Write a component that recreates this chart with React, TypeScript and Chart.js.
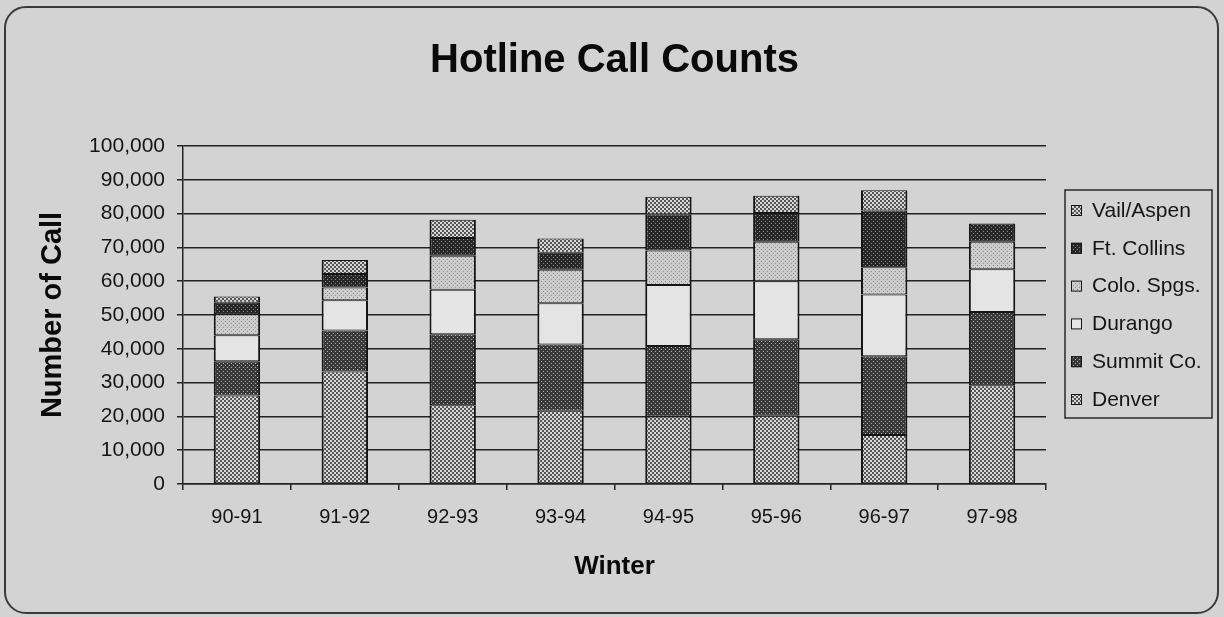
import React, { useEffect, useRef } from "react";
import { Chart, registerables } from "chart.js";

Chart.register(...registerables);

const FONT = '"Liberation Sans", Arial, Helvetica, sans-serif';

const winters = ["90-91", "91-92", "92-93", "93-94", "94-95", "95-96", "96-97", "97-98"];
const denver = [26200, 33300, 23300, 21700, 20000, 20200, 14500, 29200];
const summitCo = [10100, 12100, 21000, 19600, 20800, 22600, 23300, 21700];
const durango = [7700, 9000, 13200, 12200, 18100, 17200, 18300, 12600];
const coloSpgs = [6200, 3700, 10000, 9900, 10200, 11700, 8000, 8200];
const ftCollins = [3400, 4000, 5300, 5000, 10600, 8500, 16800, 5400];
const vailAspen = [1900, 4200, 5400, 4200, 5300, 5100, 6000, 0];

const yMin = 0;
const yMax = 100000;
const yStep = 10000;

const PAGE_BG = "#d3d3d3";
const INK = "#151515";

type Dot = [number, number, number, string];

function makePattern(ctx: CanvasRenderingContext2D, size: number, bg: string, dots: Dot[]) {
  const c = document.createElement("canvas");
  c.width = size;
  c.height = size;
  const t = c.getContext("2d")!;
  t.fillStyle = bg;
  t.fillRect(0, 0, size, size);
  dots.forEach(([x, y, s, col]) => {
    t.fillStyle = col;
    t.fillRect(x, y, s, s);
  });
  return ctx.createPattern(c, "repeat") as CanvasPattern;
}

const legendPlugin = {
  id: "boxedLegend",
  afterDraw(chart: any) {
    const { ctx, chartArea } = chart;
    const left = chartArea.right + 19;
    const top = chartArea.top + 44;
    const w = 147;
    const h = 228;
    ctx.save();
    ctx.strokeStyle = "#2a2a2a";
    ctx.lineWidth = 1.5;
    ctx.strokeRect(left, top, w, h);
    const items = chart.data.datasets.slice().reverse();
    items.forEach((ds: any, i: number) => {
      const cy = top + 20 + i * 37.8;
      const bx = left + 6;
      ctx.fillStyle = ds.backgroundColor;
      ctx.fillRect(bx, cy - 5, 11, 11);
      ctx.strokeStyle = INK;
      ctx.lineWidth = 1;
      ctx.strokeRect(bx + 0.5, cy - 4.5, 10, 10);
      ctx.fillStyle = INK;
      ctx.font = `21px ${FONT}`;
      ctx.textBaseline = "middle";
      ctx.textAlign = "left";
      ctx.fillText(ds.label, bx + 21, cy + 1);
    });
    ctx.restore();
  },
};

export default function App() {
  const ref = useRef<HTMLCanvasElement | null>(null);

  useEffect(() => {
    const canvas = ref.current;
    if (!canvas) return;
    const ctx = canvas.getContext("2d")!;

    const hatch = makePattern(ctx, 4, "#d8d8d8", [
      [0, 0, 2, "#555555"],
      [2, 2, 2, "#555555"],
    ]);
    const darkDots = makePattern(ctx, 4, "#262626", [
      [1, 1, 1, "#8c8c8c"],
      [3, 3, 1, "#8c8c8c"],
    ]);
    const midDots = makePattern(ctx, 4, "#383838", [
      [1, 1, 1, "#b0b0b0"],
      [3, 3, 1, "#b0b0b0"],
    ]);
    const lightDots = makePattern(ctx, 4, "#cdcdcd", [
      [1, 1, 1, "#8a8a8a"],
      [3, 3, 1, "#8a8a8a"],
    ]);
    const plain = "#e4e4e4";

    const barCommon = {
      borderColor: INK,
      borderWidth: { left: 2, right: 2, top: 1, bottom: 1 },
      borderSkipped: false as const,
      barPercentage: 0.43,
      categoryPercentage: 1,
    };

    const chart = new Chart(canvas, {
      type: "bar",
      data: {
        labels: winters,
        datasets: [
          { label: "Denver", data: denver, backgroundColor: hatch, ...barCommon },
          { label: "Summit Co.", data: summitCo, backgroundColor: midDots, ...barCommon },
          { label: "Durango", data: durango, backgroundColor: plain, ...barCommon },
          { label: "Colo. Spgs.", data: coloSpgs, backgroundColor: lightDots, ...barCommon },
          { label: "Ft. Collins", data: ftCollins, backgroundColor: darkDots, ...barCommon },
          { label: "Vail/Aspen", data: vailAspen, backgroundColor: hatch, ...barCommon },
        ] as any,
      },
      options: {
        animation: false,
        responsive: false,
        layout: { padding: { left: 0, right: 178, top: 0, bottom: 33 } },
        plugins: {
          legend: { display: false },
          tooltip: { enabled: false },
          title: {
            display: true,
            text: "Hotline Call Counts",
            fullSize: false,
            color: "#0a0a0a",
            font: { family: FONT, size: 40, weight: "bold", lineHeight: 1.2 },
            padding: { top: 37, bottom: 61 },
          },
        },
        scales: {
          x: {
            stacked: true,
            offset: true,
            grid: {
              display: true,
              drawOnChartArea: false,
              drawTicks: true,
              tickLength: 6,
              color: "#222",
              lineWidth: 1.5,
              offset: true,
            },
            border: { display: true, color: "#222", width: 1.5 },
            ticks: {
              color: INK,
              font: { family: FONT, size: 20 },
              padding: 15,
              autoSkip: false,
              maxRotation: 0,
            },
            title: {
              display: true,
              text: "Winter",
              color: "#0a0a0a",
              font: { family: FONT, size: 26, weight: "bold", lineHeight: 1.2 },
              padding: { top: 0, bottom: 2 },
            },
            afterFit: (s: any) => {
              s.height = 100;
            },
          },
          y: {
            stacked: true,
            min: yMin,
            max: yMax,
            ticks: {
              stepSize: yStep,
              color: INK,
              font: { family: FONT, size: 21 },
              padding: 12,
              callback: (v: any) => Number(v).toLocaleString("en-US"),
            },
            grid: {
              color: "#222",
              lineWidth: 1.5,
              drawTicks: true,
              tickLength: 6,
            },
            border: { display: true, color: "#222", width: 1.5 },
            title: {
              display: true,
              text: "Number of Call",
              color: "#0a0a0a",
              font: { family: FONT, size: 29, weight: "bold", lineHeight: 1.2 },
              padding: { top: 36, bottom: 0 },
            },
            afterFit: (s: any) => {
              s.width = 183;
            },
          },
        },
      },
      plugins: [legendPlugin],
    } as any);

    return () => chart.destroy();
  }, []);

  return (
    <div
      style={{
        position: "absolute",
        left: 0,
        top: 0,
        width: 1224,
        height: 617,
        background: PAGE_BG,
        overflow: "hidden",
      }}
    >
      <div
        style={{
          position: "absolute",
          left: 4,
          top: 6,
          width: 1211,
          height: 604,
          border: "2px solid #3a3a3a",
          borderRadius: 22,
          boxSizing: "content-box",
        }}
      />
      <canvas
        ref={ref}
        width={1224}
        height={617}
        style={{ position: "absolute", left: 0, top: 0, width: 1224, height: 617 }}
      />
    </div>
  );
}
